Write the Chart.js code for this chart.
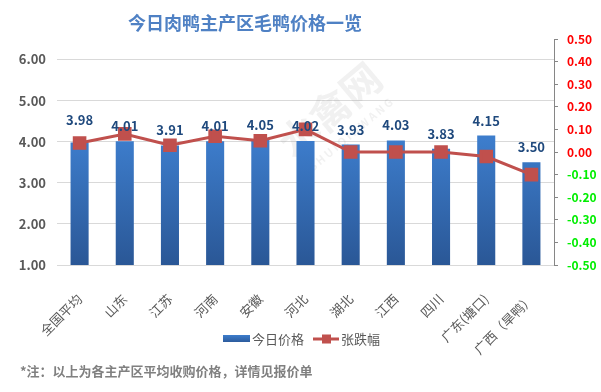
<!DOCTYPE html>
<html>
<head>
<meta charset="utf-8">
<script src="https://cdn.jsdelivr.net/npm/chart.js@4/dist/chart.umd.min.js"></script>
<style>
  html, body { margin: 0; padding: 0; background: #fff; }
  #wrap { width: 601px; height: 392px; }
</style>
</head>
<body>
<div id="wrap"><canvas id="c" width="601" height="392"></canvas></div>
<script>
// data
const REGIONS = ['全国平均', '山东', '江苏', '河南', '安徽', '河北', '湖北', '江西', '四川', '广东(塘口)', '广西（旱鸭）'];
const PRICES  = [3.98, 4.01, 3.91, 4.01, 4.05, 4.02, 3.93, 4.03, 3.83, 4.15, 3.50];
const CHANGES = [0.04, 0.08, 0.03, 0.07, 0.05, 0.10, 0.00, 0.00, 0.00, -0.02, -0.10];
const PRICE_TICKS = [1, 2, 3, 4, 5, 6];

const TITLE    = '今日肉鸭主产区毛鸭价格一览';
const FOOTNOTE = '*注：以上为各主产区平均收购价格，详情见报价单';

const FONT = '"Noto Sans CJK SC", "Noto Sans", sans-serif';
const RED_LINE = '#c0504d';

function barGradient(ctx, y0, y1) {
  const gr = ctx.createLinearGradient(0, y0, 0, y1);
  gr.addColorStop(0, '#3d7dcc');
  gr.addColorStop(1, '#2a5796');
  return gr;
}

// title, footnote, legend, watermark, value labels
const decor = {
  id: 'decor',
  beforeDatasetsDraw(chart) {
    const { ctx } = chart;
    ctx.save();
    ctx.translate(330, 110);
    ctx.rotate(-0.7);
    ctx.fillStyle = 'rgba(150,150,150,0.13)';
    ctx.font = 'bold 40px ' + FONT;
    ctx.textAlign = 'center';
    ctx.textBaseline = 'middle';
    ctx.fillText('水禽网', 0, 0);
    ctx.font = 'bold 11px ' + FONT;
    ctx.fillText('S H U I Q I N W A N G', 0, 32);
    ctx.restore();
  },
  afterDatasetsDraw(chart) {
    const { ctx } = chart;
    const bars = chart.getDatasetMeta(1).data;
    ctx.save();
    ctx.font = 'bold 13px ' + FONT;
    ctx.fillStyle = '#1f497d';
    ctx.textAlign = 'center';
    ctx.textBaseline = 'middle';
    bars.forEach((b, i) => {
      const lift = i === 0 ? 22 : 15;
      ctx.fillText(PRICES[i].toFixed(2), b.x, b.y - lift);
    });
    ctx.restore();
  },
  afterDraw(chart) {
    const { ctx } = chart;
    ctx.save();
    ctx.textBaseline = 'middle';
    // title
    ctx.font = 'bold 18px ' + FONT;
    ctx.fillStyle = '#4f81c4';
    ctx.textAlign = 'center';
    ctx.fillText(TITLE, 245, 23);
    // legend
    const ly = 339;
    ctx.fillStyle = barGradient(ctx, ly - 4, ly + 4);
    ctx.fillRect(223, ly - 4, 27, 7);
    ctx.strokeStyle = RED_LINE;
    ctx.lineWidth = 3;
    ctx.beginPath(); ctx.moveTo(313, ly); ctx.lineTo(339, ly); ctx.stroke();
    ctx.fillStyle = RED_LINE;
    ctx.fillRect(322, ly - 4.5, 9, 9);
    ctx.font = '13px ' + FONT;
    ctx.fillStyle = '#595959';
    ctx.textAlign = 'left';
    ctx.fillText(chart.data.datasets[1].label, 252, ly);
    ctx.fillText(chart.data.datasets[0].label, 341, ly);
    // footnote
    ctx.font = 'bold 13px ' + FONT;
    ctx.fillStyle = '#808080';
    ctx.fillText(FOOTNOTE, 20, 371);
    ctx.restore();
  }
};

function barFill(context) {
  const { chart } = context;
  const area = chart.chartArea;
  if (!area) return '#3466ad';
  return barGradient(chart.ctx, area.top + 100, area.bottom);
}

new Chart(document.getElementById('c'), {
  data: {
    labels: REGIONS,
    datasets: [
      {
        type: 'line',
        label: '张跌幅',
        data: CHANGES,
        yAxisID: 'y1',
        borderColor: RED_LINE,
        backgroundColor: RED_LINE,
        borderWidth: 3,
        pointStyle: 'rect',
        pointRadius: 7.5,
        pointHoverRadius: 7.5,
        tension: 0,
        order: 0
      },
      {
        type: 'bar',
        label: '今日价格',
        data: PRICES,
        yAxisID: 'y',
        backgroundColor: barFill,
        barPercentage: 0.4,
        categoryPercentage: 1,
        order: 1
      }
    ]
  },
  options: {
    responsive: false,
    animation: false,
    layout: { padding: { top: 39, left: 0, right: 0, bottom: 30 } },
    plugins: {
      tooltip: { enabled: false },
      legend: { display: false }
    },
    scales: {
      x: {
        offset: true,
        grid: { display: false },
        border: { color: '#d9d9d9', width: 1 },
        ticks: {
          color: '#595959',
          font: { family: FONT, size: 13 },
          maxRotation: 45,
          minRotation: 45,
          autoSkip: false,
          padding: 18
        },
        afterFit(scale) { scale.height = 97; }
      },
      y: {
        position: 'left',
        min: 1,
        max: 6.5,
        afterBuildTicks(scale) {
          scale.ticks = PRICE_TICKS.map(v => ({ value: v }));
        },
        grid: { color: '#d9d9d9', drawTicks: false },
        border: { display: false },
        ticks: {
          color: '#595959',
          font: { family: FONT, size: 13, weight: 'bold' },
          padding: 11,
          callback: v => Number(v).toFixed(2)
        },
        afterFit(scale) { scale.width = 57; }
      },
      y1: {
        position: 'right',
        min: -0.5,
        max: 0.5,
        grid: { drawOnChartArea: false, color: '#868686', tickLength: 4 },
        border: { color: '#868686', width: 1 },
        ticks: {
          stepSize: 0.1,
          padding: 9,
          font: { family: FONT, size: 12, weight: 'bold' },
          color: c => (c.tick.value < -0.001 ? '#00ee00' : '#ff0000'),
          callback: v => (Math.abs(v) < 1e-9 ? 0 : v).toFixed(2)
        },
        afterFit(scale) { scale.width = 47; }
      }
    }
  },
  plugins: [decor]
});
</script>
</body>
</html>
